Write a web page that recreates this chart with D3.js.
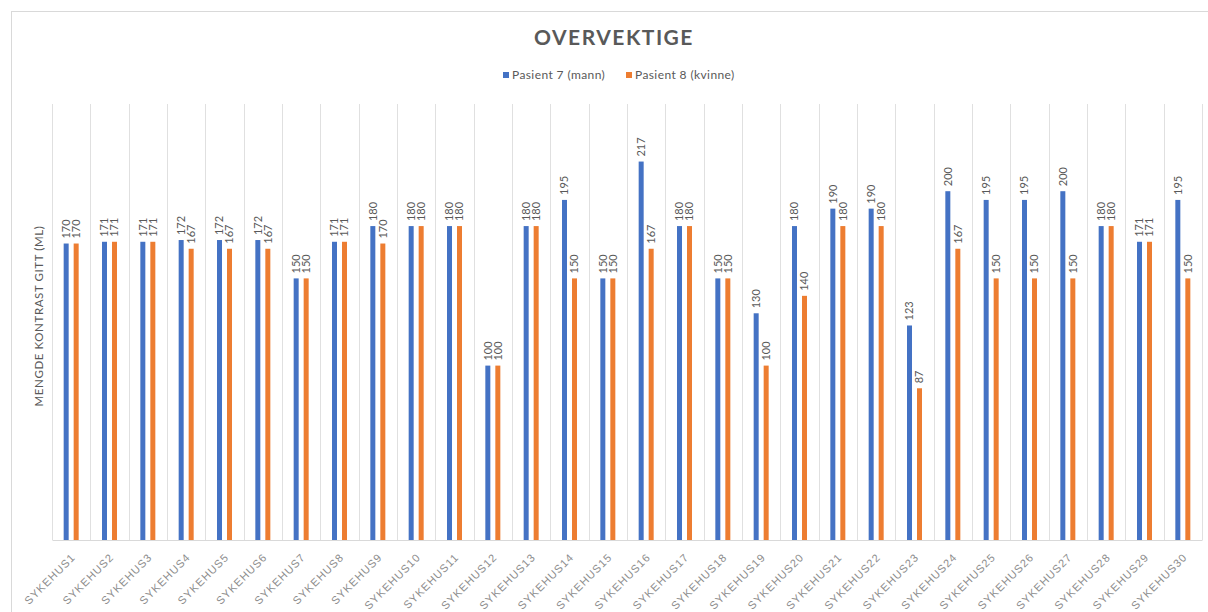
<!DOCTYPE html>
<html>
<head>
<meta charset="utf-8">
<script src="https://cdn.jsdelivr.net/npm/d3@7"></script>
<style>
  body { margin: 0; background: #fff; }
  svg { display: block; font-family: Lato, "Open Sans", sans-serif; }
</style>
</head>
<body>
<svg id="chart" width="1208" height="612"></svg>
<script>
// hospital names on the x axis
const categories = d3.range(1, 31).map((i) => `SYKEHUS${i}`);

const seriesNames = ['Pasient 7 (mann)', 'Pasient 8 (kvinne)'];

const pasient7 = [170, 171, 171, 172, 172, 172, 150, 171, 180, 180,
  180, 100, 180, 195, 150, 217, 180, 150, 130, 180,
  190, 190, 123, 200, 195, 195, 200, 180, 171, 195];
const pasient8 = [170, 171, 171, 167, 167, 167, 150, 171, 170, 180,
  180, 100, 180, 150, 150, 167, 180, 150, 100, 140,
  180, 180, 87, 167, 150, 150, 150, 180, 171, 150];

const colors = ['#4472C4', '#ED7D31'];
const yMax = 250;

const svg = d3.select('#chart');
const margin = { top: 104, right: 6, bottom: 72, left: 52 };
const width = 1208 - margin.left - margin.right;
const height = 612 - margin.top - margin.bottom;

// outer chart border (only top/left visible in the shot)
svg.append('rect')
  .attr('x', 11.5).attr('y', 11.5)
  .attr('width', 1230).attr('height', 700)
  .attr('fill', 'none').attr('stroke', '#d9d9d9');

const x = d3.scaleBand().domain(categories).range([0, width]);
const y = d3.scaleLinear().domain([0, yMax]).range([height, 0]);

const g = svg.append('g').attr('transform', `translate(${margin.left},${margin.top})`);

// vertical grid between categories
g.append('g')
  .selectAll('line')
  .data(d3.range(categories.length + 1))
  .join('line')
  .attr('x1', (i) => Math.round(i * x.step()) + 0.5)
  .attr('x2', (i) => Math.round(i * x.step()) + 0.5)
  .attr('y1', 0)
  .attr('y2', height)
  .attr('stroke', '#e0e0e0');

// x axis
const xAxis = g.append('g')
  .attr('transform', `translate(0,${height})`)
  .call(d3.axisBottom(x).tickSize(0).tickPadding(0));
xAxis.select('.domain').attr('stroke', '#d9d9d9');
xAxis.selectAll('text')
  .attr('fill', '#8c8c8c')
  .attr('x', 0).attr('y', 0).attr('dy', 0)
  .style('font-size', '11px')
  .style('letter-spacing', '1px')
  .attr('text-anchor', 'end')
  .attr('transform', 'translate(5,18) rotate(-45)');

const series = [pasient7, pasient8];
const offsets = [-5, 5];
const barW = 5;

series.forEach((vals, s) => {
  const sg = g.append('g');
  sg.selectAll('rect')
    .data(vals)
    .join('rect')
    .attr('x', (d, i) => x(categories[i]) + x.bandwidth() / 2 + offsets[s] - barW / 2)
    .attr('y', (d) => y(d))
    .attr('width', barW)
    .attr('height', (d) => height - y(d))
    .attr('fill', colors[s]);

  sg.selectAll('text')
    .data(vals)
    .join('text')
    .attr('transform', (d, i) =>
      `translate(${x(categories[i]) + x.bandwidth() / 2 + offsets[s]},${y(d) - 5}) rotate(-90)`)
    .attr('dy', '0.35em')
    .attr('fill', '#595959')
    .style('font-size', '11px')
    .text((d) => d);
});

// y axis title
svg.append('text')
  .attr('transform', 'translate(39,316) rotate(-90)')
  .attr('text-anchor', 'middle')
  .attr('dy', '0.35em')
  .attr('fill', '#595959')
  .style('font-size', '11.5px')
  .style('letter-spacing', '0.6px')
  .text('MENGDE KONTRAST GITT (ML)');

// title
svg.append('text')
  .attr('x', 614).attr('y', 45)
  .attr('text-anchor', 'middle')
  .attr('fill', '#595959')
  .style('font-size', '21px')
  .style('font-weight', 'bold')
  .style('letter-spacing', '1.5px')
  .text('OVERVEKTIGE');

// legend
const legendX = [503, 626];
const legend = svg.append('g')
  .selectAll('g')
  .data(seriesNames)
  .join('g')
  .attr('transform', (d, i) => `translate(${legendX[i]},72)`);
legend.append('rect').attr('width', 6).attr('height', 6).attr('fill', (d, i) => colors[i]);
legend.append('text')
  .attr('x', 9).attr('y', 3)
  .attr('dy', '0.35em')
  .attr('fill', '#595959')
  .style('font-size', '12px')
  .style('letter-spacing', '0.4px')
  .text((d) => d);
</script>
</body>
</html>
